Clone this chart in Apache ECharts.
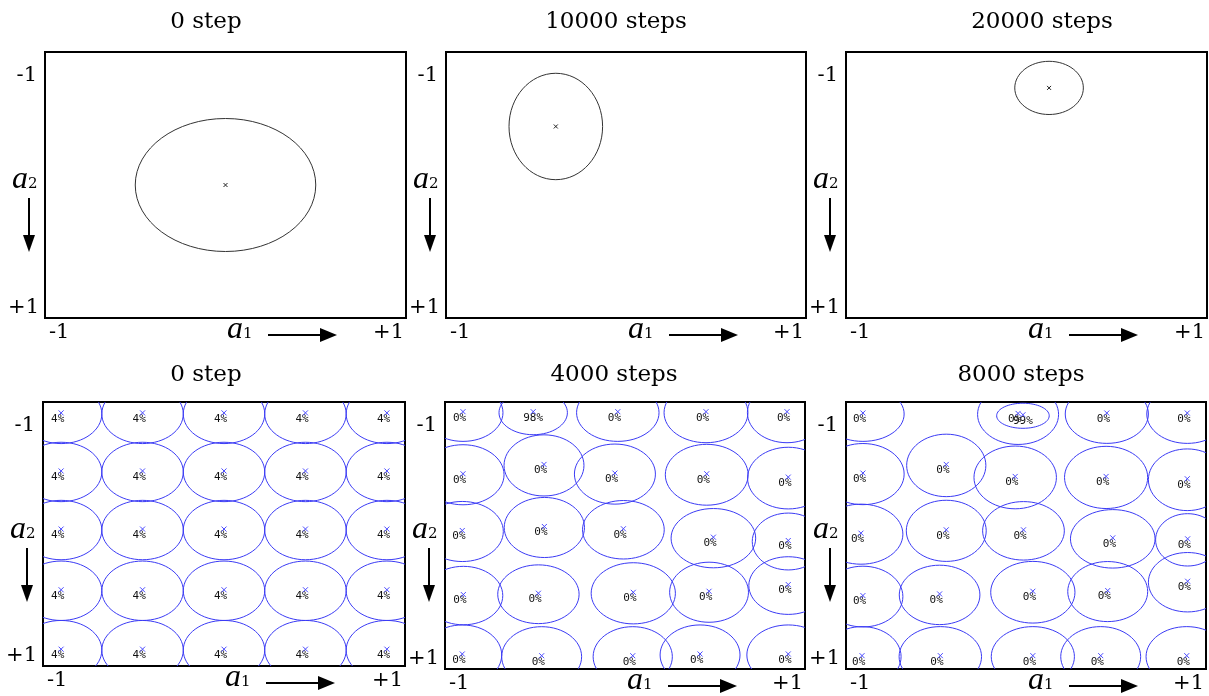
<!DOCTYPE html>
<html>
<head>
<meta charset="utf-8">
<title>Unit positions after training steps</title>
<script src="https://cdn.jsdelivr.net/npm/echarts@6/dist/echarts.min.js"></script>
<style>
    html, body {margin: 0; padding: 0; background: #fff;}
    #chart {width: 1209px; height: 696px;}
</style>
</head>
<body>
<div id="chart"></div>
<script>
// panel titles, left to right, top row first
const panelTitles = ['0 step', '10000 steps', '20000 steps', '0 step', '4000 steps', '8000 steps'];
const tickLabels = ['-1', '+1'];
const xAxisName = ['a', '1'];
const yAxisName = ['a', '2'];

// single unit: [a1, a2, radius along a1, radius along a2]
const unitStep0 = [0.0, 0.0, 0.5, 0.5];
const unitStep10000 = [-0.39, -0.44, 0.26, 0.40];
const unitStep20000 = [0.125, -0.73, 0.19, 0.20];

// 5x5 units at step 0: a regular lattice, all with the same share
const latticeA1 = [-0.9, -0.45, 0, 0.45, 0.9];
const latticeA2 = [-0.91, -0.47, -0.03, 0.43, 0.88];
const latticeRadius = 0.225;
const latticeShare = 4;

// 5x5 units after 4000 steps: [a1, a2, radius a1, radius a2], row by row
const units4000 = [
    [-0.90, -0.92, 0.222, 0.215], [-0.51, -0.92, 0.19, 0.165], [-0.04, -0.92, 0.229, 0.215], [0.45, -0.92, 0.233, 0.225], [0.90, -0.92, 0.22, 0.225],
    [-0.90, -0.455, 0.228, 0.225], [-0.45, -0.525, 0.222, 0.229], [-0.056, -0.46, 0.225, 0.225], [0.454, -0.455, 0.23, 0.228], [0.907, -0.43, 0.226, 0.231],
    [-0.904, -0.03, 0.228, 0.225], [-0.448, -0.06, 0.223, 0.225], [-0.009, -0.043, 0.227, 0.219], [0.491, 0.02, 0.235, 0.222], [0.907, 0.045, 0.2, 0.213],
    [-0.898, 0.45, 0.219, 0.219], [-0.481, 0.44, 0.226, 0.22], [0.046, 0.433, 0.234, 0.229], [0.467, 0.425, 0.219, 0.225], [0.907, 0.375, 0.219, 0.216],
    [-0.904, 0.895, 0.219, 0.225], [-0.463, 0.908, 0.222, 0.225], [0.043, 0.908, 0.22, 0.225], [0.417, 0.895, 0.222, 0.225], [0.907, 0.895, 0.23, 0.225]
];
const shares4000 = [
    0, 98, 0, 0, 0,
    0, 0, 0, 0, 0,
    0, 0, 0, 0, 0,
    0, 0, 0, 0, 0,
    0, 0, 0, 0, 0
];

// 5x5 units after 8000 steps
const units8000 = [
    [-0.906, -0.91, 0.229, 0.205], [-0.017, -0.897, 0.146, 0.094], [-0.044, -0.907, 0.225, 0.225], [0.449, -0.91, 0.231, 0.22], [0.896, -0.91, 0.225, 0.22],
    [-0.906, -0.46, 0.229, 0.229], [-0.443, -0.525, 0.22, 0.234], [-0.06, -0.435, 0.229, 0.235], [0.445, -0.435, 0.231, 0.233], [0.896, -0.4175, 0.216, 0.231],
    [-0.917, -0.01, 0.233, 0.225], [-0.443, -0.035, 0.222, 0.229], [-0.014, -0.035, 0.227, 0.219], [0.482, 0.025, 0.235, 0.219], [0.898, 0.0325, 0.178, 0.196],
    [-0.906, 0.4575, 0.222, 0.2275], [-0.48, 0.445, 0.224, 0.2225], [0.038, 0.425, 0.234, 0.231], [0.454, 0.42, 0.222, 0.225], [0.898, 0.35, 0.218, 0.2225],
    [-0.911, 0.9075, 0.217, 0.225], [-0.476, 0.9075, 0.229, 0.225], [0.038, 0.9075, 0.231, 0.225], [0.415, 0.9075, 0.222, 0.225], [0.893, 0.9075, 0.226, 0.225]
];
const shares8000 = [
    0, 99, 0, 0, 0,
    0, 0, 0, 0, 0,
    0, 0, 0, 0, 0,
    0, 0, 0, 0, 0,
    0, 0, 0, 0, 0
];

const SERIF = "'DejaVu Serif', serif";
const ITALIC = "'Liberation Serif', serif";
const UNIT_BLUE = '#3b3bf5';
const CROSS_BLUE = '#4a4aff';

// plot boxes in pixels, titleX is the title centre
const boxes = [
    {left: 45, top: 52, width: 361, height: 266, titleX: 206, titleY: 22},
    {left: 446, top: 52, width: 360, height: 266, titleX: 616, titleY: 22},
    {left: 846, top: 52, width: 361, height: 266, titleX: 1042, titleY: 22},
    {left: 43, top: 402, width: 362, height: 264, titleX: 206, titleY: 375},
    {left: 445, top: 402, width: 360, height: 267, titleX: 614, titleY: 375},
    {left: 846, top: 402, width: 360, height: 267, titleX: 1021, titleY: 375}
];

let latticeUnits = [];
latticeA2.forEach(function (a2) {
    latticeA1.forEach(function (a1) {
        latticeUnits.push([a1, a2, latticeRadius, latticeRadius, latticeShare]);
    });
});
function withShares(units, shares) {
    return units.map(function (u, i) {
        return u.concat([shares[i]]);
    });
}
const panelData = [
    [unitStep0], [unitStep10000], [unitStep20000],
    latticeUnits, withShares(units4000, shares4000), withShares(units8000, shares8000)
];

function cross(cx, cy, h, color) {
    return [
        {type: 'line', shape: {x1: cx - h, y1: cy - h, x2: cx + h, y2: cy + h}, style: {stroke: color, lineWidth: 1}},
        {type: 'line', shape: {x1: cx - h, y1: cy + h, x2: cx + h, y2: cy - h}, style: {stroke: color, lineWidth: 1}}
    ];
}

// one unit drawn as its receptive ellipse with a centre mark
function renderSingle(params, api) {
    const c = api.coord([api.value(0), api.value(1)]);
    const r = api.size([api.value(2), api.value(3)]);
    return {
        type: 'group',
        children: [
            {type: 'ellipse', shape: {cx: c[0], cy: c[1], rx: r[0], ry: r[1]},
                style: {fill: 'none', stroke: '#333', lineWidth: 1}}
        ].concat(cross(c[0], c[1], 2, '#222'))
    };
}

function renderNode(params, api) {
    const c = api.coord([api.value(0), api.value(1)]);
    const r = api.size([api.value(2), api.value(3)]);
    return {
        type: 'group',
        children: [
            {type: 'ellipse', shape: {cx: c[0], cy: c[1], rx: r[0], ry: r[1]},
                style: {fill: 'none', stroke: UNIT_BLUE, lineWidth: 1}},
            {type: 'text', x: c[0] - 10, y: c[1] + 5,
                style: {text: api.value(4) + '%', fill: '#111', align: 'left', verticalAlign: 'middle',
                    font: "11px 'DejaVu Sans Mono'"}}
        ].concat(cross(c[0], c[1] - 1, 2.5, CROSS_BLUE))
    };
}

let grids = [], xAxes = [], yAxes = [], series = [], graphics = [];
boxes.forEach(function (b, i) {
    grids.push({left: b.left, top: b.top, width: b.width, height: b.height,
        show: true, borderColor: '#000', borderWidth: 2, backgroundColor: 'transparent'});
    xAxes.push({type: 'value', gridIndex: i, min: -1, max: 1, show: false});
    yAxes.push({type: 'value', gridIndex: i, min: -1, max: 1, inverse: true, show: false});
    series.push({
        type: 'custom', xAxisIndex: i, yAxisIndex: i, clip: true,
        renderItem: i < 3 ? renderSingle : renderNode,
        data: panelData[i]
    });

    const L = b.left, T = b.top, R = b.left + b.width, B = b.top + b.height;
    const txt = function (x, y, text, align, size) {
        return {type: 'text', x: x, y: y, silent: true,
            style: {text: text, align: align, verticalAlign: 'middle', fill: '#000',
                fontFamily: SERIF, fontSize: size}};
    };
    graphics.push(txt(b.titleX, b.titleY, panelTitles[i], 'center', 23));
    graphics.push(txt(L - 8, T + 24, tickLabels[0], 'right', 21));
    graphics.push(txt(L - 6, B - 10, tickLabels[1], 'right', 21));
    graphics.push(txt(L + 4, B + 15, tickLabels[0], 'left', 21));
    graphics.push(txt(R - 2, B + 15, tickLabels[1], 'right', 21));

    // axis names with arrows
    const rich = {
        a: {fontFamily: ITALIC, fontStyle: 'italic', fontSize: 32, fill: '#000', verticalAlign: 'bottom'},
        s: {fontFamily: SERIF, fontSize: 15, fill: '#000', verticalAlign: 'bottom', padding: [0, 0, 4, 0]}
    };
    graphics.push({type: 'text', x: L + 182, y: B + 12, silent: true,
        style: {text: '{a|' + xAxisName[0] + '}{s|' + xAxisName[1] + '}', rich: rich, align: 'left', verticalAlign: 'middle'}});
    graphics.push({type: 'line', silent: true, shape: {x1: L + 223, y1: B + 17, x2: L + 278, y2: B + 17},
        style: {stroke: '#000', lineWidth: 2}});
    graphics.push({type: 'polygon', silent: true,
        shape: {points: [[L + 275, B + 10], [L + 292, B + 17], [L + 275, B + 24]]}, style: {fill: '#000'}});
    graphics.push({type: 'text', x: L - 33, y: T + 128, silent: true,
        style: {text: '{a|' + yAxisName[0] + '}{s|' + yAxisName[1] + '}', rich: rich, align: 'left', verticalAlign: 'middle'}});
    graphics.push({type: 'line', silent: true, shape: {x1: L - 16, y1: T + 146, x2: L - 16, y2: T + 186},
        style: {stroke: '#000', lineWidth: 2}});
    graphics.push({type: 'polygon', silent: true,
        shape: {points: [[L - 22, T + 183], [L - 16, T + 200], [L - 10, T + 183]]}, style: {fill: '#000'}});
});

const chart = echarts.init(document.getElementById('chart'));
chart.setOption({
    animation: false,
    backgroundColor: '#fff',
    grid: grids,
    xAxis: xAxes,
    yAxis: yAxes,
    series: series,
    graphic: {elements: graphics}
});
</script>
</body>
</html>
